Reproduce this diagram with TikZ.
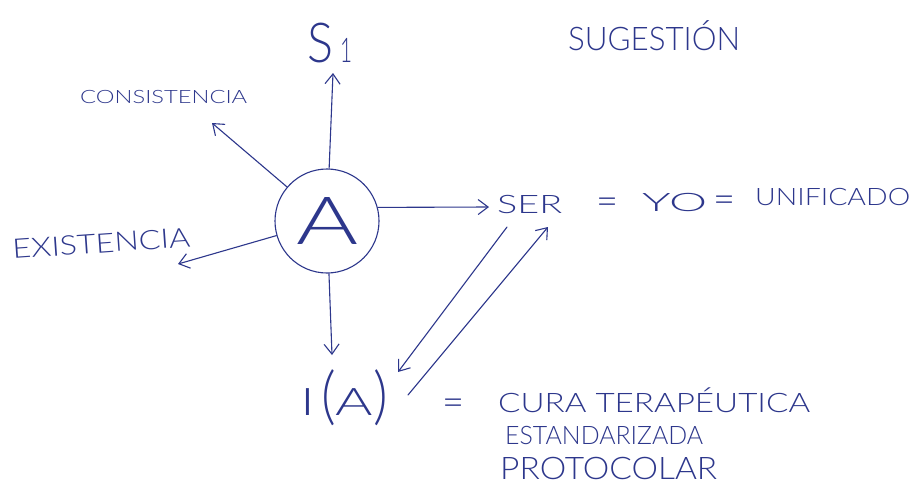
\documentclass[tikz,border=0pt]{standalone}
\usepackage{fontspec}
\setmainfont{Liberation Sans}
\newfontfamily\thinfont{Lato Light}
\usetikzlibrary{arrows.meta}
\definecolor{ink}{RGB}{45,55,140}
\newcommand{\hw}[3]{\resizebox{#1}{#2}{\raisebox{0pt}[\fontcharht\font`E][0pt]{#3}}}
\tikzset{
  txt/.style={inner sep=0pt, anchor=base west, text=ink, font=\thinfont\fontsize{20pt}{20pt}\selectfont},
  eqs/.style={inner sep=0pt, text=ink, font=\thinfont\fontsize{38pt}{38pt}\selectfont},
  arr/.style={draw=ink, line width=1.1pt, line cap=round, -{Straight Barb[length=10pt,width=15pt,line width=1.1pt]}},
  bigcircle/.style={circle, draw=ink, line width=1.1pt, minimum size=104pt, inner sep=0pt, text=ink}
}
\begin{document}
\begin{tikzpicture}[x=1pt,y=-1pt]
\fill[white] (0,0) rectangle (914,493);
\useasboundingbox (0,0) rectangle (914,493);

% central circle
\node[bigcircle] (A) at (327,221) {\thinfont\fontsize{40pt}{40pt}\selectfont\hw{62pt}{47pt}{A}};

% texts
\node[txt] (s1) at (307,62) {\fontsize{36pt}{36pt}\selectfont\hw{26pt}{39pt}{S}\hspace{7pt}\hw{12pt}{24pt}{1}};
\node[txt] (cons) at (80,103) {\hw{167pt}{13pt}{CONSISTENCIA}};
\node[txt, rotate=4] (exis) at (13,259) {\hw{178pt}{19pt}{EXISTENCIA}};
\node[txt] (sug) at (568,50) {\hw{172pt}{23pt}{SUGESTIÓN}};
\node[txt] (ser) at (497,213) {\hw{65pt}{18pt}{SER}};
\node[eqs] (eq1) at (608,206) {=};
\node[txt] (yo) at (642,211) {\hw{65pt}{18pt}{YO}};
\node[eqs] (eq2) at (725,204) {=};
\node[txt] (unif) at (755,205) {\hw{155pt}{17pt}{UNIFICADO}};
\node[txt] (ia) at (300,415) {\fontsize{38pt}{38pt}\selectfont\scalebox{1.5}[1]{I\hspace{4pt}\raisebox{-2pt}{\scalebox{1}[1.65]{(}}A\raisebox{-2pt}{\scalebox{1}[1.65]{)}}}};
\node[eqs] (eq3) at (454,407) {=};
\node[txt] (cura) at (498,412) {\hw{312pt}{19pt}{CURA TERAPÉUTICA}};
\node[txt] (estd) at (505,444) {\hw{198pt}{18pt}{ESTANDARIZADA}};
\node[txt] (prot) at (500,479) {\hw{217pt}{22pt}{PROTOCOLAR}};

% arrow tips and ends
\coordinate (tS1) at (333,73);
\coordinate (tCons) at (212,123);
\coordinate (tExis) at (178,264);
\coordinate (tDown) at (332,355);
\coordinate (tSer) at (489,207);
\coordinate (serL) at (507,227);
\coordinate (tIA) at (398,372);
\coordinate (iaR) at (408,395);
\coordinate (tSerB) at (548,227);

\draw[arr] (A) -- (tS1);
\draw[arr] (A) -- (tCons);
\draw[arr] (A) -- (tExis);
\draw[arr] (A) -- (tDown);
\draw[arr] (A.15) -- (tSer);
\draw[arr] (serL) -- (tIA);
\draw[arr] (iaR) -- (tSerB);
\end{tikzpicture}
\end{document}
